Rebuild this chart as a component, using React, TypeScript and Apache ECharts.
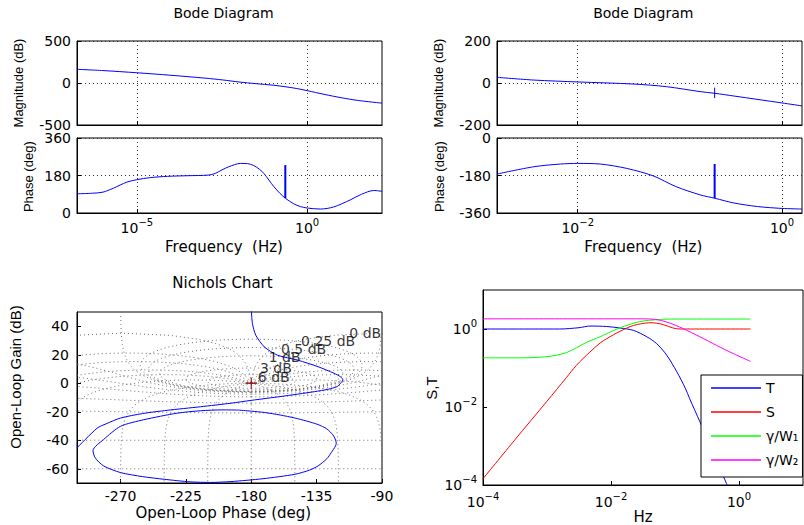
import { useEffect, useRef } from 'react';
import * as echarts from 'echarts';

// ---------------- Top-left Bode diagram ----------------
const bodeLMagFreq = [1.74e-7, 1e-6, 1e-5, 1e-4, 1e-3, 3.39e-3, 1e-2, 3.16e-2, 0.1, 0.224, 0.501, 1, 3.16, 10, 31.6, 158.5];
const bodeLMag = [163, 148, 122, 92, 58, 36, 12, -8, -26, -44, -66, -91, -135, -175, -208, -240];
const bodeLPhaseFreq = [1.74e-7, 5.01e-7, 1e-6, 2.04e-6, 5.01e-6, 1e-5, 2.51e-5, 7.94e-5, 3.16e-4, 1.26e-3, 2e-3, 3.16e-3, 5.01e-3, 1.1e-2, 1.78e-2, 2.69e-2, 3.98e-2, 5.37e-2, 0.105, 0.158, 0.229, 0.407, 0.631, 1, 2.45, 6.03, 18.6, 39.8, 91.2, 158.5];
const bodeLPhase = [92, 95, 100, 119, 148, 160, 170, 176, 179, 182, 190, 207, 222, 238, 237, 228, 210, 190, 127, 95, 71, 44, 31, 24, 19, 29, 63, 90, 108, 104];
const bodeLSpikeFreq = [0.229, 0.229];
const bodeLSpikePhase = [71, 230];

// ---------------- Top-right Bode diagram ----------------
const bodeRMagFreq = [1.62e-3, 3.72e-3, 1e-2, 3.55e-2, 7.41e-2, 0.158, 0.219, 0.339, 1, 1.57];
const bodeRMag = [27, 14, 5, -5, -17.5, -41, -49, -62, -95, -109];
const bodeRMagSpikeFreq = [0.219, 0.219];
const bodeRMagSpike = [-22, -72];
const bodeRPhaseFreq = [1.62e-3, 3.72e-3, 6.76e-3, 1e-2, 1.66e-2, 3.02e-2, 5.5e-2, 9.12e-2, 0.158, 0.219, 0.339, 0.575, 1, 1.57];
const bodeRPhase = [-173, -138, -125, -122, -125, -146, -182, -233, -273, -289, -312, -329, -338, -341];
const bodeRPhaseSpikeFreq = [0.219, 0.219];
const bodeRPhaseSpike = [-289, -125];

// ---------------- Nichols chart ----------------
const nicholsPhaseA = [-180, -179.2, -176.9, -171, -162, -148, -134, -123, -118.5, -117, -118.5, -121, -127, -136.5, -159.6, -180, -194, -215, -238, -255, -270, -280, -286, -300];
const nicholsGainA = [52, 41.8, 33.7, 25.5, 19.7, 16.2, 11.6, 7, 4.5, 2.5, 0, -2.4, -4.2, -5.9, -9.3, -12, -14, -16.5, -19, -21.3, -24.4, -28.5, -31.4, -45.3];
const nicholsPhaseB = [-189, -200, -215, -231, -254, -270, -281.7, -289, -287.5, -281.7, -270, -255, -240, -222, -208, -194, -172, -150, -140, -134, -128, -125, -122, -121.5, -122.5, -124, -128, -134, -142, -150, -160, -171, -180, -189];
const nicholsGainB = [-18.8, -18.7, -19.3, -21, -25.6, -30.2, -39.5, -47.2, -52.3, -58, -62.7, -65.5, -67.4, -69.2, -69.6, -69, -67, -63.9, -61, -58, -53, -48.8, -44, -41.8, -38.5, -36, -32, -29, -26.5, -24.4, -22.3, -20.5, -19.6, -18.8];
const nicholsLabelText = ['0 dB', '0.25 dB', '0.5 dB', '1 dB', '3 dB', '6 dB'];
const nicholsLabelPhase = [-112.5, -145.7, -159.6, -168, -174, -175.5];
const nicholsLabelGain = [35, 29.5, 24, 18.5, 10.7, 4.4];
const ngridGainsDb = [6, 3, 1, 0.5, 0.25, 0, -1, -3, -6, -12, -20, -40, -60];
const ngridPhasesDeg = [1, 5, 10, 20, 30, 50, 90, 120, 150, 180];
const nicholsXTicks = [-270, -225, -180, -135, -90];
const nicholsYTicks = [-60, -40, -20, 0, 20, 40];

// ---------------- S, T plot ----------------
const tFreq = [1e-4, 1e-3, 1.58e-3, 3.16e-3, 4.68e-3, 8.51e-3, 1.38e-2, 2.24e-2, 3.63e-2, 5.13e-2, 7.41e-2, 0.107, 0.145, 0.17, 0.245, 0.603, 1.51];
const tVal = [1, 1, 1.0, 1.08, 1.19, 1.16, 1.06, 0.923, 0.631, 0.427, 0.214, 0.0794, 0.0302, 0.0162, 0.00417, 1.35e-4, 3.98e-6];
const sFreq = [1e-4, 3.16e-4, 1e-3, 2e-3, 2.88e-3, 4.68e-3, 6.76e-3, 8.51e-3, 1.38e-2, 2.24e-2, 4.07e-2, 5.13e-2, 6.61e-2, 9.33e-2, 0.12, 0.151, 1.51];
const sVal = [1.45e-4, 1.45e-3, 1.41e-2, 5.62e-2, 0.117, 0.257, 0.437, 0.562, 0.871, 1.23, 1.445, 1.41, 1.29, 1.06, 1.0, 1.0, 1.0];
const w1Freq = [1e-4, 3.16e-4, 1e-3, 2.04e-3, 4.17e-3, 6.76e-3, 8.51e-3, 1.38e-2, 2.82e-2, 5.89e-2, 0.1, 1.51];
const w1Val = [0.182, 0.182, 0.195, 0.251, 0.457, 0.631, 0.759, 1.07, 1.55, 1.76, 1.8, 1.8];
const w2Freq = [1e-4, 1e-3, 1e-2, 3.16e-2, 5.01e-2, 7.41e-2, 0.1, 0.135, 0.245, 0.447, 0.813, 1.51];
const w2Val = [1.82, 1.82, 1.82, 1.82, 1.76, 1.51, 1.26, 1.02, 0.631, 0.38, 0.234, 0.148];
const stTicks = [1e-4, 1e-2, 1];
const legendNames = ['T', 'S', 'γ/W₁', 'γ/W₂'];

const FONT = 'DejaVu Sans';
const VFONT = 'Liberation Sans';
const BLACK = '#000000';
const BLUE = '#0000ff';

const zip = (xs: number[], ys: number[]) => xs.map((x, i) => [x, ys[i]]);

const supRich = {
  b: { fontSize: 14, lineHeight: 21, fontFamily: FONT, color: BLACK },
  e: { fontSize: 10, lineHeight: 10, verticalAlign: 'top', fontFamily: FONT, color: BLACK },
};
const powLabel = (v: number) => {
  const p = Math.round(Math.log10(v));
  return `{b|10}{e|${p < 0 ? '\u2212' + -p : p}}`;
};
const tickFont = { color: BLACK, fontFamily: FONT, fontSize: 14 };
const dottedSplit = { show: true, lineStyle: { color: '#333', width: 1, type: [1, 3] } };

function logAxis(gridIndex: number, min: number, max: number, ticks: number[], showLabel: boolean, margin: number, grid: boolean) {
  return {
    type: 'log', logBase: 10, gridIndex, min, max,
    axisLine: { show: true, onZero: false, lineStyle: { color: BLACK, width: 1 } },
    axisTick: { show: true, inside: true, length: 4, customValues: ticks, lineStyle: { color: BLACK } },
    minorTick: { show: false },
    minorSplitLine: { show: false },
    axisLabel: { show: showLabel, customValues: ticks, margin, formatter: powLabel, rich: supRich, ...tickFont },
    splitLine: grid ? dottedSplit : { show: false },
  };
}
function valAxis(gridIndex: number, min: number, max: number, interval: number, margin: number) {
  return {
    type: 'value', gridIndex, min, max, interval,
    axisLine: { show: true, onZero: false, lineStyle: { color: BLACK, width: 1 } },
    axisTick: { show: true, inside: true, length: 4, lineStyle: { color: BLACK } },
    axisLabel: { margin, ...tickFont },
    splitLine: dottedSplit,
  };
}

// Standard Nichols chart grid (closed-loop constant gain / phase contours, as MATLAB ngrid)
function ngridSeries() {
  const out: any[] = [];
  const toNichols = (m: number, th: number) => {
    const tr = m * Math.cos(th), ti = m * Math.sin(th);
    const dr = 1 - tr, di = -ti;
    const den = dr * dr + di * di;
    if (den < 1e-12) return null;
    const re = (tr * dr + ti * di) / den;
    const im = (ti * dr - tr * di) / den;
    let ph = (Math.atan2(im, re) * 180) / Math.PI;
    if (ph > 0) ph -= 360;
    const g = 20 * Math.log10(Math.hypot(re, im));
    if (!isFinite(g)) return null;
    return [ph, g];
  };
  const build = (samples: number[][]) => {
    const pts: number[][] = [];
    let prev: number[] | null = null;
    for (const [m, th] of samples) {
      const r = toNichols(m, th);
      if (!r) { pts.push([NaN, NaN]); prev = null; continue; }
      if (prev && Math.abs(r[0] - prev[0]) > 180) pts.push([NaN, NaN]);
      pts.push(r);
      prev = r;
    }
    out.push({
      type: 'line', xAxisIndex: 4, yAxisIndex: 4, data: pts, symbol: 'none', showSymbol: false,
      lineStyle: { color: '#6a6a6a', width: 1, type: [1, 3] }, silent: true, z: 1, clip: true,
    });
  };
  for (const gdb of ngridGainsDb) {
    const m = Math.pow(10, gdb / 20);
    const s: number[][] = [];
    for (let k = -720; k <= 720; k++) s.push([m, (k / 4) * Math.PI / 180]);
    build(s);
  }
  for (const p of ngridPhasesDeg) {
    const signs = p === 180 ? [1] : [1, -1];
    for (const sg of signs) {
      const th = (sg * p * Math.PI) / 180;
      const s: number[][] = [];
      for (let k = -800; k <= 800; k++) s.push([Math.pow(10, k / 200), th]);
      build(s);
    }
  }
  return out;
}

function txt(x: number, y: number, text: string, size: number, family: string, rotate = false) {
  return {
    type: 'text', x, y, rotation: rotate ? Math.PI / 2 : 0, silent: true,
    style: { text, fontSize: size, fontFamily: family, fill: BLACK, align: 'center', verticalAlign: 'middle', textAlign: 'center', textVerticalAlign: 'middle' },
  };
}

function buildOption() {
  const grids = [
    { left: 77, top: 41, width: 305, height: 84 },
    { left: 77, top: 138, width: 305, height: 75 },
    { left: 497, top: 41, width: 305, height: 84 },
    { left: 497, top: 138, width: 305, height: 75 },
    { left: 77, top: 312, width: 305, height: 171 },
    { left: 483, top: 290, width: 320, height: 195 },
  ].map((g) => ({ ...g, show: true, borderColor: BLACK, borderWidth: 1, backgroundColor: 'transparent', containLabel: false }));

  const xAxis = [
    logAxis(0, 1.74e-7, 158.5, [1e-5, 1], false, 4, true),
    logAxis(1, 1.74e-7, 158.5, [1e-5, 1], true, 4, true),
    logAxis(2, 1.62e-3, 1.57, [1e-2, 1], false, 4, true),
    logAxis(3, 1.62e-3, 1.57, [1e-2, 1], true, 4, true),
    {
      type: 'value', gridIndex: 4, min: -300, max: -90,
      axisLine: { show: true, onZero: false, lineStyle: { color: BLACK } },
      axisTick: { show: true, inside: true, length: 4, customValues: nicholsXTicks, lineStyle: { color: BLACK } },
      axisLabel: { customValues: nicholsXTicks, margin: 6, ...tickFont },
      splitLine: { show: false },
    },
    logAxis(5, 1e-4, 10, stTicks, true, 6, false),
  ];
  const yAxis = [
    valAxis(0, -500, 500, 500, 6),
    valAxis(1, 0, 360, 180, 6),
    valAxis(2, -200, 200, 200, 6),
    valAxis(3, -360, 0, 180, 6),
    {
      type: 'value', gridIndex: 4, min: -70, max: 50,
      axisLine: { show: true, onZero: false, lineStyle: { color: BLACK } },
      axisTick: { show: true, inside: true, length: 4, customValues: nicholsYTicks, lineStyle: { color: BLACK } },
      axisLabel: { customValues: nicholsYTicks, margin: 8, ...tickFont },
      splitLine: { show: false },
    },
    logAxis(5, 1e-4, 10, stTicks, true, 6, false),
  ];

  const curve = (xi: number, data: number[][], color: string, width = 1, smooth: any = 0.3, name?: string) => ({
    type: 'line', name, xAxisIndex: xi, yAxisIndex: xi, data, symbol: 'none', showSymbol: false, smooth,
    lineStyle: { color, width }, itemStyle: { color }, z: 3, clip: true,
  });

  const series: any[] = [
    curve(0, zip(bodeLMagFreq, bodeLMag), BLUE),
    curve(1, zip(bodeLPhaseFreq, bodeLPhase), BLUE),
    curve(1, zip(bodeLSpikeFreq, bodeLSpikePhase), BLUE, 2, false),
    curve(2, zip(bodeRMagFreq, bodeRMag), BLUE),
    curve(2, zip(bodeRMagSpikeFreq, bodeRMagSpike), BLUE, 1, false),
    curve(3, zip(bodeRPhaseFreq, bodeRPhase), BLUE),
    curve(3, zip(bodeRPhaseSpikeFreq, bodeRPhaseSpike), BLUE, 2, false),
    ...ngridSeries(),
    curve(4, zip(nicholsPhaseA, nicholsGainA), BLUE, 1, 0.25),
    curve(4, zip(nicholsPhaseB, nicholsGainB), BLUE, 1, 0.25),
    {
      type: 'scatter', xAxisIndex: 4, yAxisIndex: 4, symbolSize: 0, z: 5, silent: true,
      data: nicholsLabelText.map((t, i) => ({ name: t, value: [nicholsLabelPhase[i], nicholsLabelGain[i]] })),
      label: { show: true, position: 'right', distance: 0, formatter: '{b}', color: BLACK, fontFamily: FONT, fontSize: 14 },
    },
    {
      type: 'scatter', xAxisIndex: 4, yAxisIndex: 4, z: 6, silent: true,
      symbol: 'path://M-0.6,-5 L0.6,-5 L0.6,-0.6 L5,-0.6 L5,0.6 L0.6,0.6 L0.6,5 L-0.6,5 L-0.6,0.6 L-5,0.6 L-5,-0.6 L-0.6,-0.6 Z',
      symbolSize: 11, itemStyle: { color: '#990000' },
      data: [[-180, 0]],
    },
    curve(5, zip(tFreq, tVal), '#0000ff', 1, 0.3, legendNames[0]),
    curve(5, zip(sFreq, sVal), '#ff0000', 1, 0.3, legendNames[1]),
    curve(5, zip(w1Freq, w1Val), '#00ff00', 1, 0.3, legendNames[2]),
    curve(5, zip(w2Freq, w2Val), '#ff00ff', 1, 0.3, legendNames[3]),
  ];

  return {
    animation: false,
    backgroundColor: '#ffffff',
    grid: grids,
    xAxis,
    yAxis,
    series,
    legend: {
      data: legendNames, orient: 'vertical', left: 701, top: 375,
      icon: 'rect', itemWidth: 50, itemHeight: 1.5, itemGap: 10, padding: [6, 4, 10, 10],
      borderColor: BLACK, borderWidth: 1, backgroundColor: '#ffffff', selectedMode: false, z: 10,
      textStyle: { fontFamily: FONT, fontSize: 14, lineHeight: 14, color: BLACK },
    },
    graphic: [
      txt(223.5, 12.7, 'Bode Diagram', 14, FONT),
      txt(643.3, 12.7, 'Bode Diagram', 14, FONT),
      txt(18, 83, 'Magnitude (dB)', 13, VFONT, true),
      txt(28, 176.7, 'Phase (deg)', 13, VFONT, true),
      txt(224, 246.7, 'Frequency  (Hz)', 15, FONT),
      txt(438, 83, 'Magnitude (dB)', 13, VFONT, true),
      txt(439, 176.7, 'Phase (deg)', 13, VFONT, true),
      txt(643.3, 246.7, 'Frequency  (Hz)', 15, FONT),
      txt(222.5, 283.3, 'Nichols Chart', 15, FONT),
      txt(15, 377, 'Open-Loop Gain (dB)', 15, VFONT, true),
      txt(223.3, 512.7, 'Open-Loop Phase (deg)', 15, FONT),
      txt(431, 388, 'S,T', 15, VFONT, true),
      txt(643, 516.7, 'Hz', 15, FONT),
    ],
  };
}

export default function App() {
  const ref = useRef<HTMLDivElement>(null);
  useEffect(() => {
    document.body.style.margin = '0';
    const chart = echarts.init(ref.current as HTMLDivElement, null, { renderer: 'svg' });
    chart.setOption(buildOption() as any);
    return () => chart.dispose();
  }, []);
  return <div ref={ref} style={{ width: 804, height: 525 }} />;
}
